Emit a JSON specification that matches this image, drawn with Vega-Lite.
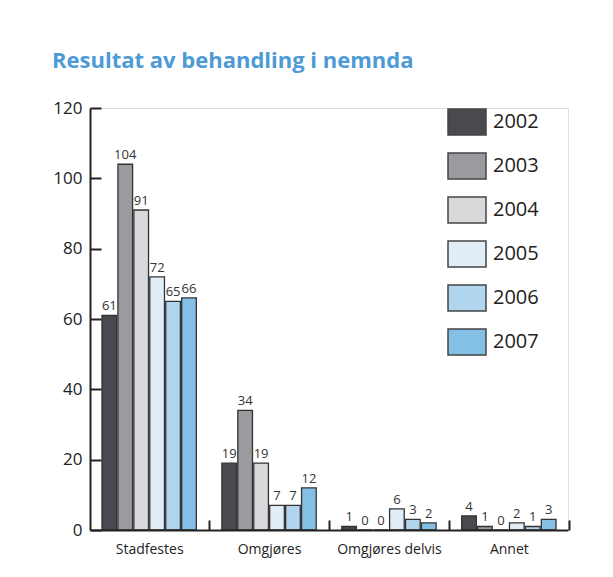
{
  "$schema": "https://vega.github.io/schema/vega-lite/v6.json",
  "autosize": {"type": "none"},
  "width": 478,
  "height": 422,
  "padding": {"left": 90, "top": 108, "right": 45, "bottom": 47},
  "background": "white",
  "title": {
    "text": "Resultat av behandling i nemnda",
    "anchor": "start",
    "frame": "group",
    "dx": -38,
    "offset": 26,
    "font": "Open Sans",
    "fontSize": 22,
    "fontWeight": "bold",
    "color": "#4d9bd5"
  },
  "data": {
    "values": [
      {"cat": "Stadfestes", "year": "2002", "value": 61},
      {"cat": "Stadfestes", "year": "2003", "value": 104},
      {"cat": "Stadfestes", "year": "2004", "value": 91},
      {"cat": "Stadfestes", "year": "2005", "value": 72},
      {"cat": "Stadfestes", "year": "2006", "value": 65},
      {"cat": "Stadfestes", "year": "2007", "value": 66},
      {"cat": "Omgjøres", "year": "2002", "value": 19},
      {"cat": "Omgjøres", "year": "2003", "value": 34},
      {"cat": "Omgjøres", "year": "2004", "value": 19},
      {"cat": "Omgjøres", "year": "2005", "value": 7},
      {"cat": "Omgjøres", "year": "2006", "value": 7},
      {"cat": "Omgjøres", "year": "2007", "value": 12},
      {"cat": "Omgjøres delvis", "year": "2002", "value": 1},
      {"cat": "Omgjøres delvis", "year": "2003", "value": 0},
      {"cat": "Omgjøres delvis", "year": "2004", "value": 0},
      {"cat": "Omgjøres delvis", "year": "2005", "value": 6},
      {"cat": "Omgjøres delvis", "year": "2006", "value": 3},
      {"cat": "Omgjøres delvis", "year": "2007", "value": 2},
      {"cat": "Annet", "year": "2002", "value": 4},
      {"cat": "Annet", "year": "2003", "value": 1},
      {"cat": "Annet", "year": "2004", "value": 0},
      {"cat": "Annet", "year": "2005", "value": 2},
      {"cat": "Annet", "year": "2006", "value": 1},
      {"cat": "Annet", "year": "2007", "value": 3}
    ]
  },
  "encoding": {
    "x": {
      "field": "cat",
      "type": "nominal",
      "sort": null,
      "scale": {"paddingInner": 0.213, "paddingOuter": 0.1},
      "axis": {
        "title": null,
        "labelAngle": 0,
        "labelFont": "Open Sans",
        "labelFontSize": 14,
        "labelColor": "#222",
        "labelPadding": 22,
        "domainColor": "#222",
        "domainWidth": 2,
        "ticks": true,
        "tickColor": "#222",
        "tickWidth": 2,
        "tickSize": -10,
        "bandPosition": 1,
        "tickOffset": 12.8,
        "labelOffset": -12.8,
        "zindex": 1
      }
    },
    "xOffset": {
      "field": "year",
      "type": "nominal",
      "scale": {"paddingInner": 0.08}
    },
    "y": {
      "field": "value",
      "type": "quantitative",
      "scale": {"domain": [0, 120], "nice": false},
      "axis": {
        "title": null,
        "grid": false,
        "values": [0, 20, 40, 60, 80, 100, 120],
        "labelFont": "Open Sans",
        "labelFontSize": 17,
        "labelColor": "#222",
        "labelPadding": 19,
        "domainColor": "#222",
        "domainWidth": 2,
        "tickColor": "#222",
        "tickWidth": 2,
        "tickSize": -11,
        "zindex": 1
      }
    }
  },
  "layer": [
    {
      "mark": {"type": "bar", "stroke": "#333", "strokeWidth": 1.3},
      "encoding": {
        "fill": {
          "field": "year",
          "type": "nominal",
          "scale": {
            "domain": ["2002", "2003", "2004", "2005", "2006", "2007"],
            "range": ["#4a494f", "#9b9a9f", "#d9d9db", "#e1eef8", "#b1d5ef", "#84bfe6"]
          },
          "legend": {
            "title": null,
            "orient": "none",
            "legendX": 357,
            "legendY": -6,
            "symbolType": "M-1,-0.684L1,-0.684L1,0.684L-1,0.684Z",
            "symbolSize": 1444,
            "symbolStrokeColor": "#444",
            "symbolStrokeWidth": 1.5,
            "symbolOpacity": 1,
            "labelFont": "Open Sans",
            "labelFontSize": 20,
            "labelColor": "#222",
            "labelOffset": 6,
            "rowPadding": 8,
            "padding": 0
          }
        }
      }
    },
    {
      "mark": {
        "type": "text",
        "baseline": "alphabetic",
        "dy": -5,
        "font": "Open Sans",
        "fontSize": 13,
        "color": "#333"
      },
      "encoding": {
        "text": {"field": "value", "type": "quantitative"}
      }
    }
  ]
}
